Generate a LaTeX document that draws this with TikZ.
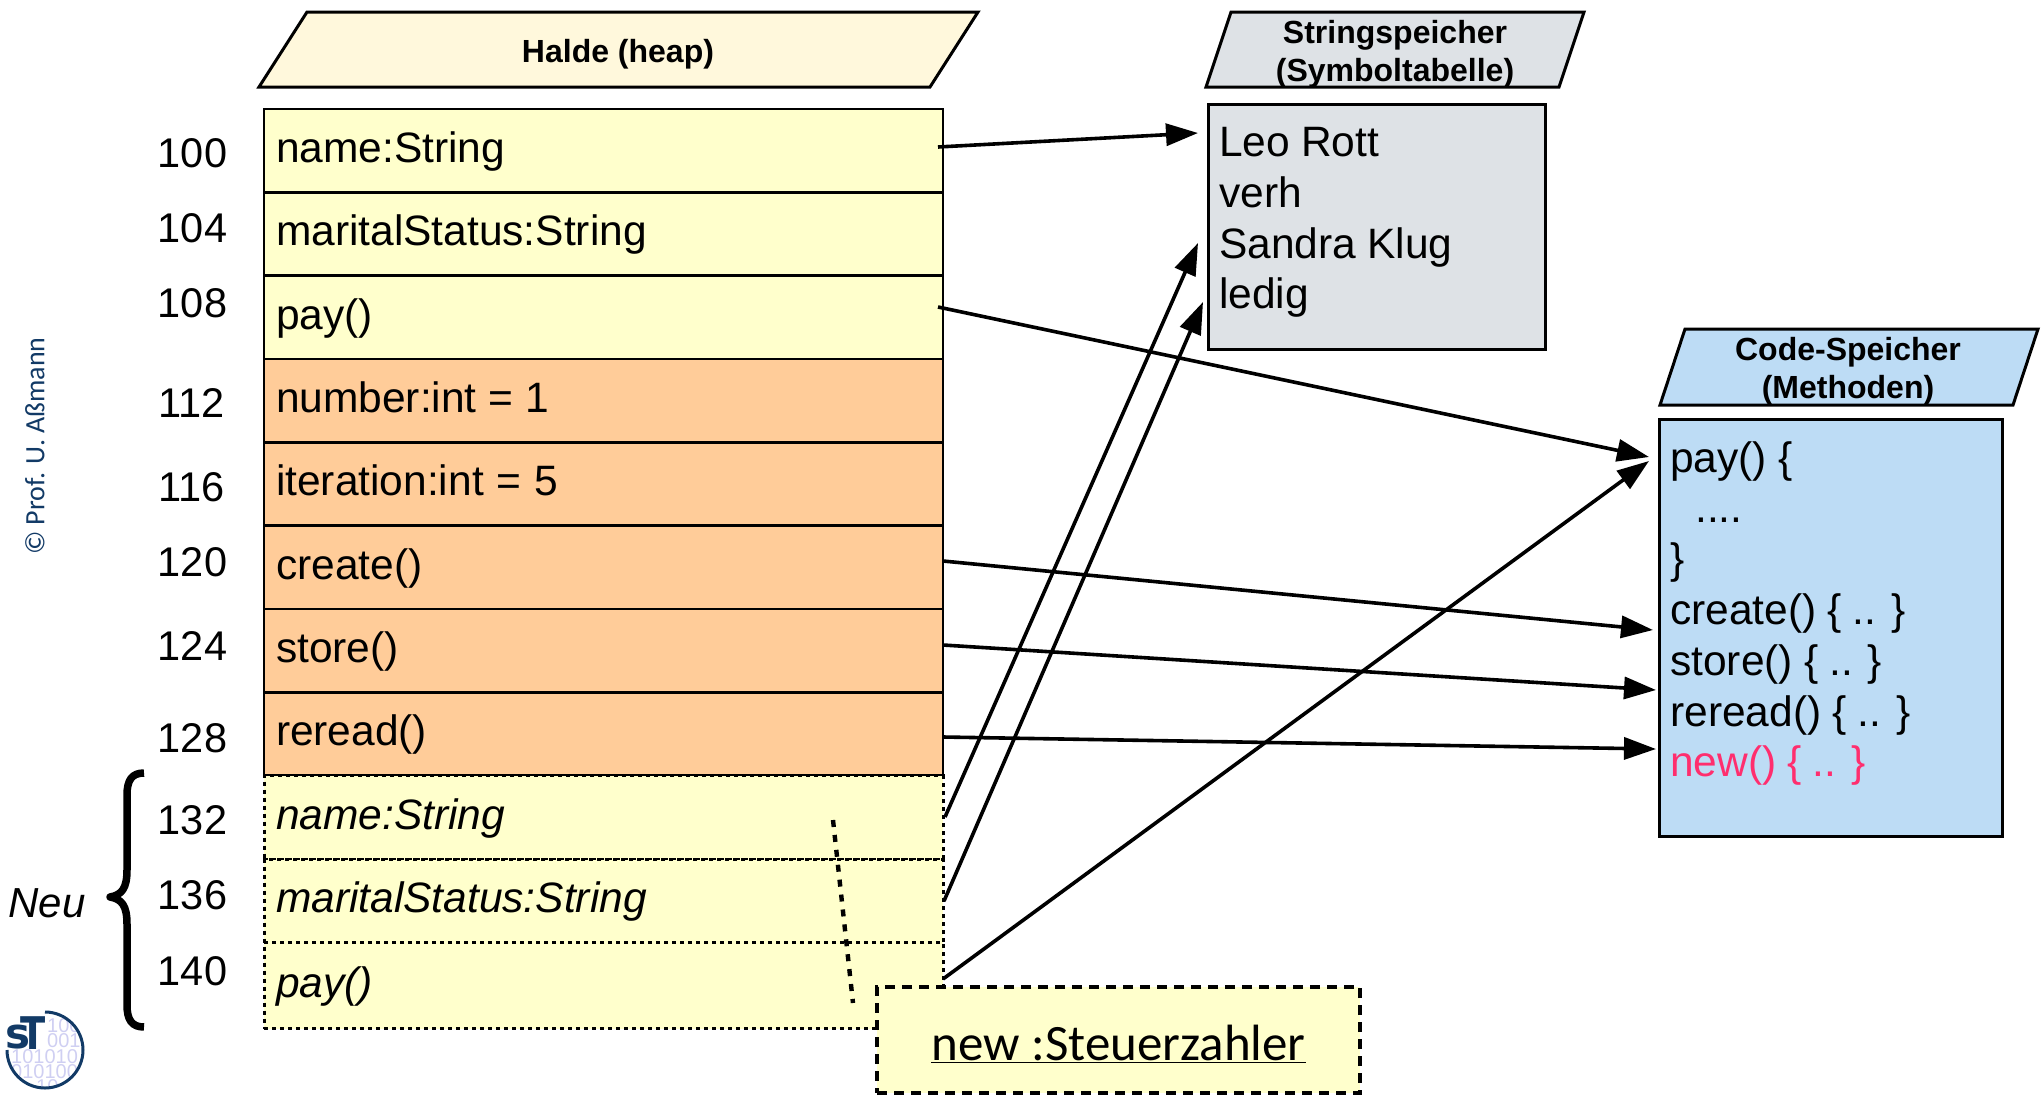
\documentclass[tikz,border=0pt]{standalone}
\usepackage{fontspec}
\setmainfont{Liberation Sans}
\newfontfamily\carlito{Carlito}
\newfontfamily\logofont{DejaVu Sans}
\usetikzlibrary{arrows.meta}
\definecolor{rowyellow}{HTML}{FFFFCC}
\definecolor{roworange}{HTML}{FFCC99}
\definecolor{headcream}{HTML}{FFF8DC}
\definecolor{storegray}{HTML}{DEE2E6}
\definecolor{codeblue}{HTML}{BDDCF5}
\definecolor{newpink}{HTML}{FF2E6E}
\definecolor{logoblue}{HTML}{123A66}
\definecolor{logolav}{HTML}{CFCFF2}
\newcommand{\bigtext}{\fontsize{42.5}{50.8}\selectfont\spaceskip=0.26em\relax}
\tikzset{
  x=1pt,y=-1pt,
  rowbase/.style={anchor=center,minimum width=679pt,inner xsep=12pt,inner ysep=0pt,
    text width=655pt,align=left,font=\bigtext,text height=33pt,text depth=10pt},
  solidrow/.style={rowbase,draw=black,line width=2.6pt},
  dotrow/.style={rowbase,draw=black,line width=3pt,dash pattern=on 4pt off 4pt,fill=rowyellow},
  addr/.style={font=\fontsize{41.5}{48}\selectfont,anchor=center},
  head/.style={draw=black,line width=3pt,line join=miter},
  headtxt/.style={font=\fontsize{32}{38}\selectfont\bfseries,align=center,anchor=center,inner sep=0pt},
  storebox/.style={draw=black,line width=2.6pt,anchor=north west,inner sep=0pt},
  storetxt/.style={font=\bigtext,align=left,anchor=north west,inner sep=0pt},
  ptr/.style={draw=black,line width=3.6pt,-{Triangle[length=32pt,width=22pt]}},
  bindigit/.style={text=logolav,font=\fontsize{20}{24}\selectfont,anchor=base west,inner sep=0pt},
}
\begin{document}
\begin{tikzpicture}
\useasboundingbox (0,0) rectangle (2042,1095);
% headers
\filldraw[head,fill=headcream] (259,87) -- (307,12) -- (978,12) -- (930,87) -- cycle;
\node[headtxt] (heaphead) at (618,54) {Halde (heap)};
\filldraw[head,fill=storegray] (1206,87) -- (1231,12) -- (1584,12) -- (1559,87) -- cycle;
\node[headtxt] (strhead) at (1395,54) {Stringspeicher\\(Symboltabelle)};
\filldraw[head,fill=codeblue] (1660,405) -- (1685,329) -- (2038,329) -- (2013,405) -- cycle;
\node[headtxt] (codehead) at (1848,371) {Code-Speicher\\(Methoden)};
% heap rows
\node[solidrow,fill=rowyellow,minimum height=84pt] (r1) at (603.5,151) {name:String};
\node[solidrow,fill=rowyellow,minimum height=83pt] (r2) at (603.5,234) {maritalStatus:String};
\node[solidrow,fill=rowyellow,minimum height=83pt] (r3) at (603.5,317.5) {pay()};
\node[solidrow,fill=roworange,minimum height=83pt] (r4) at (603.5,400.5) {number:int\kern12.2pt=\kern12.2pt1};
\node[solidrow,fill=roworange,minimum height=83pt] (r5) at (603.5,484) {iteration:int\kern12.7pt=\kern12.7pt5};
\node[solidrow,fill=roworange,minimum height=83pt] (r6) at (603.5,567.5) {create()};
\node[solidrow,fill=roworange,minimum height=83pt] (r7) at (603.5,650.5) {store()};
\node[solidrow,fill=roworange,minimum height=83pt] (r8) at (603.5,734) {reread()};
\node[dotrow,minimum height=84pt,font=\bigtext\itshape] (r9) at (603.5,817.5) {name:String};
\node[dotrow,minimum height=83pt,font=\bigtext\itshape] (r10) at (603.5,901) {maritalStatus:String};
\node[dotrow,minimum height=86pt,font=\bigtext\itshape] (r11) at (603.5,985.5) {pay()};
% addresses
\node[addr] (a100) at (192.5,153) {100};
\node[addr] (a104) at (192.5,228) {104};
\node[addr] (a108) at (192.5,303) {108};
\node[addr] (a112) at (192,403) {112};
\node[addr] (a116) at (192,487) {116};
\node[addr] (a120) at (192.5,562) {120};
\node[addr] (a124) at (192.5,646) {124};
\node[addr] (a128) at (192.5,738) {128};
\node[addr] (a132) at (192.5,820) {132};
\node[addr] (a136) at (192.5,895) {136};
\node[addr] (a140) at (192.5,971) {140};
% brace and Neu
\draw[line width=7.5pt,line join=round] (144,773) .. controls (132,773) and (127,780) .. (127,795)
  -- (127,870) .. controls (127,888) and (122,895) .. (110,897)
  .. controls (122,899) and (127,906) .. (127,924)
  -- (127,1005) .. controls (127,1020) and (132,1027) .. (144,1027);
\node[font=\fontsize{42}{48}\selectfont\itshape] (neu) at (47,903) {Neu};
% stores
\node[storebox,fill=storegray,minimum width=337pt,minimum height=245pt] (strbox) at (1207,103) {};
\node[storetxt] (strtxt) at (1219,127) {Leo Rott\\verh\\Sandra Klug\\ledig};
\node[storebox,fill=codeblue,minimum width=343pt,minimum height=417pt] (codebox) at (1658,418) {};
\node[storetxt] (codetxt) at (1670,441) {pay() \{\\\hspace*{25pt}....\\\}\\create() \{ .. \}\\store() \{ .. \}\\reread() \{ .. \}\\{\color{newpink}new() \{ .. \}}};
% connector end points
\coordinate (s1) at (938,147);   \coordinate (e1) at (1198,133);
\coordinate (s3) at (938,307);   \coordinate (e3) at (1649,457);
\coordinate (s6) at (943,561);   \coordinate (e6) at (1653,630);
\coordinate (s7) at (943,645);   \coordinate (e7) at (1656,690);
\coordinate (s8) at (943,737);   \coordinate (e8) at (1656,749);
\coordinate (s9) at (945,817);   \coordinate (e9) at (1198,243);
\coordinate (s10) at (944,901);  \coordinate (e10) at (1203,302);
\coordinate (s11) at (943,979);  \coordinate (e11) at (1649,461);
\draw[ptr] (s1) -- (e1);
\draw[ptr] (s3) -- (e3);
\draw[ptr] (s6) -- (e6);
\draw[ptr] (s7) -- (e7);
\draw[ptr] (s8) -- (e8);
\draw[ptr] (s9) -- (e9);
\draw[ptr] (s10) -- (e10);
\draw[ptr] (s11) -- (e11);
% new object
\node[anchor=north west,draw=black,fill=rowyellow,line width=4.2pt,dash pattern=on 10pt off 7pt,
  minimum width=483pt,minimum height=106pt,inner sep=0pt,text height=46pt,text depth=6pt,
  font=\carlito\fontsize{51}{58}\selectfont] (newobj) at (875,985) {\underline{new :Steuerzahler}};
\coordinate (d1) at (833,820); \coordinate (d2) at (853,1003);
\draw[line width=4.4pt,dash pattern=on 7pt off 8pt] (d1) -- (d2);
% copyright
\node[rotate=90,text=logoblue,font=\carlito\fontsize{28}{32}\selectfont] (copy) at (35,446) {© Prof. U. Aßmann};
% logo
\begin{scope}
\clip (45,1050) circle[radius=37];
\node[bindigit] (l1) at (47,1032) {100};
\node[bindigit] (l2) at (47,1047) {001};
\node[bindigit] (l3) at (11,1063) {101010};
\node[bindigit] (l4) at (11,1078) {010100};
\node[bindigit] (l5) at (36,1093) {10};
\end{scope}
\draw[logoblue,line width=3pt] (45,1012) arc[start angle=-90,end angle=180,radius=38];
\node[text=logoblue,font=\logofont\fontsize{42}{44}\selectfont\bfseries,inner sep=0pt,anchor=base west] (logos) at (5,1048) {s};
\node[text=logoblue,font=\logofont\fontsize{45}{48}\selectfont\bfseries,inner sep=0pt,anchor=base west,xscale=.82] (logot) at (20,1049) {T};
\end{tikzpicture}
\end{document}
